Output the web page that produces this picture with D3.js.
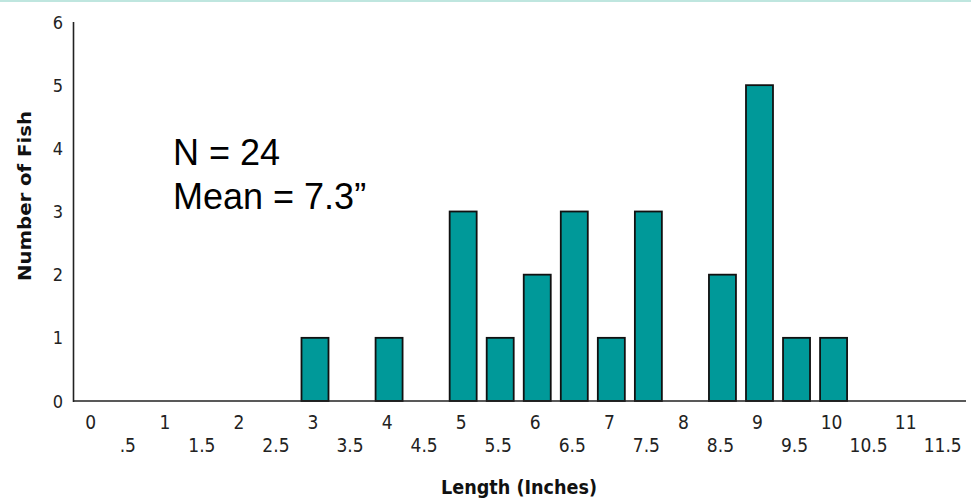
<!DOCTYPE html>
<html>
<head>
<meta charset="utf-8">
<script src="https://cdn.jsdelivr.net/npm/d3@7"></script>
<style>
  html, body { margin: 0; padding: 0; background: #fff; }
  svg { display: block; }
</style>
</head>
<body>
<svg id="chart" width="971" height="501"></svg>
<script>
// Data
const lengths = [3, 4, 5, 5.5, 6, 6.5, 7, 7.5, 8.5, 9, 9.5, 10];
const counts  = [1, 1, 3, 1,   2, 3,   1, 3,   2,   5, 1,   1];
const intTicks  = [0, 1, 2, 3, 4, 5, 6, 7, 8, 9, 10, 11];
const halfTicks = [0.5, 1.5, 2.5, 3.5, 4.5, 5.5, 6.5, 7.5, 8.5, 9.5, 10.5, 11.5];
const halfLabels = [".5", "1.5", "2.5", "3.5", "4.5", "5.5", "6.5", "7.5", "8.5", "9.5", "10.5", "11.5"];
const yTicks = [0, 1, 2, 3, 4, 5, 6];
const annotations = ["N = 24", "Mean = 7.3\u201D"];
const xTitle = "Length (Inches)";
const yTitle = "Number of Fish";

const svg = d3.select("#chart");

// top teal border line
svg.append("rect").attr("x", 0).attr("y", 0).attr("width", 971).attr("height", 2)
  .attr("fill", "#bfe6df");

const x = d3.scaleLinear().domain([0, 11.5]).range([92.75, 944.7]);
const y = d3.scaleLinear().domain([0, 6]).range([401, 22]);
const barW = 27;

const tickFont = "'DejaVu Sans Condensed', 'DejaVu Sans', sans-serif";

// bars
svg.append("g").selectAll("rect")
  .data(lengths.map((l, i) => ({ l, c: counts[i] })))
  .join("rect")
  .attr("x", d => x(d.l) - barW / 2)
  .attr("y", d => y(d.c))
  .attr("width", barW)
  .attr("height", d => y(0) - y(d.c))
  .attr("fill", "#009999")
  .attr("stroke", "#111")
  .attr("stroke-width", 1.8);

// axes lines
svg.append("line").attr("x1", 73.5).attr("x2", 73.5).attr("y1", y(6)).attr("y2", y(0) + 1)
  .attr("stroke", "#222").attr("stroke-width", 1.6);
svg.append("line").attr("x1", 73).attr("x2", 966).attr("y1", y(0)).attr("y2", y(0))
  .attr("stroke", "#222").attr("stroke-width", 1.6);

// x tick labels
svg.append("g").selectAll("text")
  .data(intTicks)
  .join("text")
  .attr("x", d => x(d) - 2)
  .attr("y", 429)
  .attr("text-anchor", "middle")
  .attr("font-family", tickFont)
  .attr("font-size", 19)
  .attr("fill", "#222")
  .text(d => d);

svg.append("g").selectAll("text")
  .data(halfTicks)
  .join("text")
  .attr("x", d => x(d) - 2)
  .attr("y", 452)
  .attr("text-anchor", "middle")
  .attr("font-family", tickFont)
  .attr("font-size", 19)
  .attr("fill", "#222")
  .text((d, i) => halfLabels[i]);

// y tick labels
svg.append("g").selectAll("text")
  .data(yTicks)
  .join("text")
  .attr("x", 63)
  .attr("y", d => y(d) + 6.5)
  .attr("text-anchor", "end")
  .attr("font-family", tickFont)
  .attr("font-size", 18)
  .attr("fill", "#222")
  .text(d => d);

// axis titles
svg.append("text")
  .attr("x", 519).attr("y", 494)
  .attr("text-anchor", "middle")
  .attr("font-family", "'DejaVu Sans', sans-serif")
  .attr("font-weight", "bold")
  .attr("font-size", 19)
  .attr("textLength", 156)
  .attr("lengthAdjust", "spacingAndGlyphs")
  .attr("fill", "#111")
  .text(xTitle);

svg.append("text")
  .attr("transform", "translate(31,196) rotate(-90)")
  .attr("text-anchor", "middle")
  .attr("font-family", "'DejaVu Sans', sans-serif")
  .attr("font-weight", "bold")
  .attr("font-size", 18)
  .attr("textLength", 170)
  .attr("lengthAdjust", "spacingAndGlyphs")
  .attr("fill", "#111")
  .text(yTitle);

// annotation
svg.append("g").selectAll("text")
  .data(annotations)
  .join("text")
  .attr("x", 173)
  .attr("y", (d, i) => 165 + i * 44)
  .attr("font-family", "'Liberation Sans', Arial, sans-serif")
  .attr("font-size", 36)
  .attr("fill", "#000")
  .text(d => d);
</script>
</body>
</html>
